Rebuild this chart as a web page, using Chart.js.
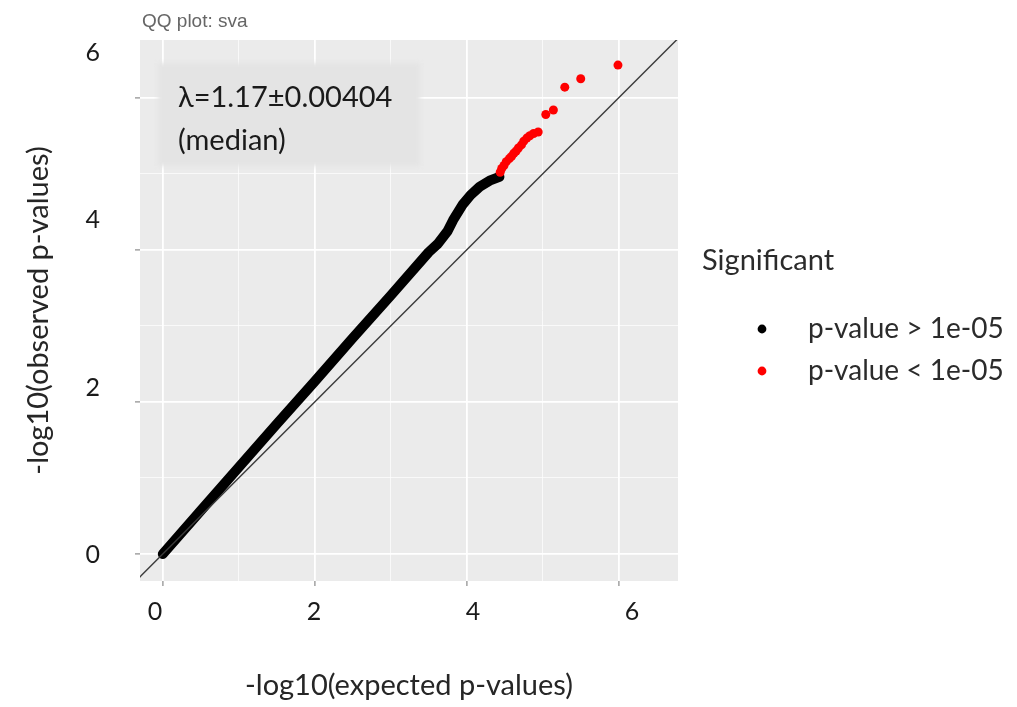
<!DOCTYPE html>
<html>
<head>
<meta charset="utf-8">
<script src="https://cdn.jsdelivr.net/npm/chart.js@4.4.1/dist/chart.umd.min.js"></script>
<style>
    html, body { margin: 0; padding: 0; background: #ffffff; }
    #wrap { width: 1017px; height: 707px; position: relative; }
</style>
</head>
<body>
<div id="wrap"><canvas id="qqChart"></canvas></div>
<script>
// 관측 p-value 분위수 (검은 띠: 유의하지 않은 구간)
const blackX = [0.00, 0.50, 1.00, 1.50, 2.00, 2.50, 3.00, 3.50, 3.62, 3.75, 3.82, 3.95, 4.05, 4.17, 4.30, 4.43];
const blackY = [0.00, 0.57, 1.14, 1.71, 2.27, 2.84, 3.40, 3.97, 4.08, 4.25, 4.39, 4.60, 4.72, 4.83, 4.91, 4.96];

// 유의한 점 (p < 1e-05)
const redX = [4.44, 4.46, 4.49, 4.52, 4.56, 4.59, 4.62, 4.65, 4.68, 4.72, 4.75, 4.79, 4.83, 4.88, 4.94, 5.04, 5.14, 5.29, 5.50, 5.99];
const redY = [5.02, 5.07, 5.11, 5.16, 5.20, 5.23, 5.27, 5.30, 5.34, 5.38, 5.43, 5.47, 5.50, 5.53, 5.55, 5.78, 5.84, 6.14, 6.25, 6.43];

// y = x 기준선
const refX = [-1, 8];

// 격자 / 눈금
const gridValues = [0, 1, 2, 3, 4, 5, 6];
const majorValues = [0, 2, 4, 6];
const xTickLabels = [0, 2, 4, 6];
const yTickLabels = [0, 2, 4, 6];

const plotTitle = 'QQ plot: sva';
const lambdaLines = ['λ=1.17±0.00404', '(median)'];
const legendTitle = 'Significant';

const FONT = 'Lato, "Noto Sans", sans-serif';

function toPoints(xs, ys) {
    return xs.map((x, i) => ({ x: x, y: ys[i] }));
}

const isMajor = v => majorValues.indexOf(Math.round(v * 100) / 100) !== -1;

const gridOpts = {
    color: ctx => isMajor(ctx.tick.value) ? '#ffffff' : 'rgba(255,255,255,0.75)',
    lineWidth: ctx => isMajor(ctx.tick.value) ? 1.8 : 0.9,
    drawTicks: true,
    tickLength: 5,
    tickWidth: 1.2,
    tickColor: ctx => isMajor(ctx.tick.value) ? '#8a8a8a' : 'rgba(0,0,0,0)'
};

// 패널 배경, 람다 라벨, 제목, 범례
const decorPlugin = {
    id: 'decor',
    beforeDraw(chart) {
        const { ctx, chartArea: a } = chart;
        ctx.save();
        ctx.fillStyle = '#ebebeb';
        ctx.fillRect(a.left, a.top, a.right - a.left, a.bottom - a.top);
        ctx.restore();
    },
    beforeDatasetsDraw(chart) {
        const { ctx } = chart;
        ctx.save();
        ctx.filter = 'blur(2px)';
        ctx.fillStyle = '#e4e4e4';
        ctx.fillRect(158, 63, 262, 103);
        ctx.filter = 'none';
        ctx.fillStyle = '#1a1a1a';
        ctx.font = '29px ' + FONT;
        ctx.textBaseline = 'alphabetic';
        ctx.fillText(lambdaLines[0], 178, 107);
        ctx.fillText(lambdaLines[1], 178, 150);
        ctx.restore();
    },
    afterDraw(chart) {
        const { ctx } = chart;
        ctx.save();
        // 제목
        ctx.fillStyle = '#666666';
        ctx.font = '19px "Liberation Sans", Arial, sans-serif';
        ctx.textBaseline = 'middle';
        ctx.fillText(plotTitle, 142, 22);

        // 범례
        ctx.fillStyle = '#2b2b2b';
        ctx.font = '29px ' + FONT;
        ctx.fillText(legendTitle, 702, 261);
        ctx.font = '28px ' + FONT;
        const items = chart.data.datasets.filter(d => d.legend);
        items.forEach((d, i) => {
            const y = 329 + i * 42;
            ctx.beginPath();
            ctx.fillStyle = d.legendColor;
            ctx.arc(762, y, 4.4, 0, Math.PI * 2);
            ctx.fill();
            ctx.fillStyle = '#2b2b2b';
            ctx.fillText(d.label, 808, y);
        });
        ctx.restore();
    }
};

new Chart(document.getElementById('qqChart'), {
    type: 'scatter',
    data: {
        datasets: [
            {
                label: 'y = x',
                data: toPoints(refX, refX),
                showLine: true,
                borderColor: '#3a3a3a',
                borderWidth: 1.4,
                pointRadius: 0,
                order: 0
            },
            {
                label: 'p-value > 1e-05',
                legend: true,
                legendColor: '#000000',
                data: toPoints(blackX, blackY),
                showLine: true,
                borderColor: '#000000',
                borderWidth: 10,
                borderCapStyle: 'round',
                borderJoinStyle: 'round',
                pointRadius: 0,
                order: 2
            },
            {
                label: 'p-value < 1e-05',
                legend: true,
                legendColor: '#ff0000',
                data: toPoints(redX, redY),
                backgroundColor: '#ff0000',
                borderWidth: 0,
                pointRadius: 4.5,
                order: 1
            }
        ]
    },
    options: {
        responsive: true,
        maintainAspectRatio: false,
        animation: false,
        events: [],
        layout: { padding: { left: 0, top: 40, right: 339, bottom: 0 } },
        plugins: {
            legend: { display: false },
            tooltip: { enabled: false }
        },
        scales: {
            x: {
                type: 'linear',
                position: 'bottom',
                weight: 0,
                min: -0.30,
                max: 6.78,
                afterBuildTicks: s => { s.ticks = gridValues.map(v => ({ value: v })); },
                ticks: { display: false },
                grid: gridOpts,
                border: { display: false },
                afterFit: s => { s.height = 6; }
            },
            x2: {
                type: 'linear',
                position: 'bottom',
                weight: 1,
                min: -0.189,
                max: 6.579,
                afterBuildTicks: s => { s.ticks = xTickLabels.map(v => ({ value: v })); },
                grid: { display: false, drawTicks: false },
                border: { display: false },
                ticks: {
                    color: '#1a1a1a',
                    font: { family: FONT, size: 25 },
                    padding: 10
                },
                title: {
                    display: true,
                    text: '-log10(expected p-values)',
                    color: '#262626',
                    font: { family: FONT, size: 29 },
                    padding: { top: 0, bottom: 4 }
                },
                afterFit: s => { s.height = 120; }
            },
            y: {
                type: 'linear',
                position: 'left',
                weight: 0,
                min: -0.355,
                max: 6.76,
                afterBuildTicks: s => { s.ticks = gridValues.map(v => ({ value: v })); },
                ticks: { display: false },
                grid: gridOpts,
                border: { display: false },
                afterFit: s => { s.width = 34; }
            },
            y2: {
                type: 'linear',
                position: 'left',
                weight: 1,
                min: -0.311,
                max: 6.155,
                afterBuildTicks: s => { s.ticks = yTickLabels.map(v => ({ value: v })); },
                grid: { display: false, drawTicks: false },
                border: { display: false },
                ticks: {
                    color: '#1a1a1a',
                    font: { family: FONT, size: 25 },
                    padding: 6
                },
                title: {
                    display: true,
                    text: '-log10(observed p-values)',
                    color: '#262626',
                    font: { family: FONT, size: 29 },
                    padding: { top: 21, bottom: 0 }
                },
                afterFit: s => { s.width = 106; }
            }
        }
    },
    plugins: [decorPlugin]
});
</script>
</body>
</html>
